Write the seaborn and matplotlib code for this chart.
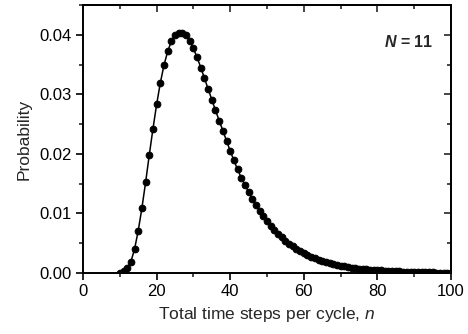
import numpy as np
import pandas as pd
import matplotlib
matplotlib.use("Agg")
import matplotlib.pyplot as plt
from matplotlib.ticker import MultipleLocator
import seaborn as sns

# time steps per cycle (n) and probability
n_steps = list(range(10, 101))
probability = [
    0.00005, 0.0003, 0.0008, 0.0019, 0.0040, 0.0071, 0.0109, 0.0152, 0.0198, 0.0242,  # 10-19
    0.0283, 0.0319, 0.0349, 0.0372, 0.0389, 0.0399, 0.0403, 0.0403, 0.0399, 0.0390,   # 20-29
    0.0377, 0.0362, 0.0345, 0.0327, 0.0309, 0.0291, 0.0273, 0.0256, 0.0239, 0.0222,   # 30-39
    0.0205, 0.0189, 0.0174, 0.0160, 0.0148, 0.0136, 0.0124, 0.0114, 0.0104, 0.0095,   # 40-49
    0.0087, 0.0079, 0.0072, 0.0066, 0.0060, 0.0054, 0.0049, 0.0045, 0.0041, 0.0037,   # 50-59
    0.0033, 0.0030, 0.0027, 0.0025, 0.0022, 0.0020, 0.0018, 0.0017, 0.0015, 0.0014,   # 60-69
    0.0012, 0.0011, 0.0010, 0.0009, 0.0008, 0.0007, 0.0007, 0.0006, 0.0005, 0.0005,   # 70-79
    0.0005, 0.00045, 0.0004, 0.00036, 0.00032, 0.00029, 0.00026, 0.00023, 0.0002, 0.00018,  # 80-89
    0.00016, 0.00014, 0.00013, 0.00011, 0.0001, 0.00009, 0.00008, 0.00007, 0.00006, 0.00006,  # 90-99
    0.00005,  # 100
]

df = pd.DataFrame({"n": n_steps, "p": probability})

sns.set_style("ticks")
plt.rcParams["font.family"] = ["Liberation Sans", "DejaVu Sans"]
plt.rcParams["mathtext.fontset"] = "custom"
plt.rcParams["mathtext.it"] = "Liberation Sans:italic"
plt.rcParams["mathtext.rm"] = "Liberation Sans"
plt.rcParams["mathtext.bf"] = "Liberation Sans:bold:italic"

fig = plt.figure(figsize=(4.68, 3.34), dpi=100)
ax = fig.add_axes([0.1774, 0.1826, 0.7863, 0.8024])

sns.lineplot(data=df, x="n", y="p", ax=ax, color="black", linewidth=1.1,
             marker="o", markersize=4.8, markeredgecolor="black", markerfacecolor="black")

ax.set_xlim(0, 100)
ax.set_ylim(0, 0.045)
ax.xaxis.set_major_locator(MultipleLocator(20))
ax.xaxis.set_minor_locator(MultipleLocator(10))
ax.yaxis.set_major_locator(MultipleLocator(0.01))
ax.yaxis.set_minor_locator(MultipleLocator(0.005))
ax.yaxis.set_major_formatter(matplotlib.ticker.FormatStrFormatter("%.2f"))

for s in ax.spines.values():
    s.set_linewidth(1.4)
    s.set_color("black")

# outward ticks bottom/left
ax.tick_params(axis="both", which="major", direction="out", length=5, width=1.2,
               labelsize=12, colors="black", pad=3)
ax.tick_params(axis="both", which="minor", direction="out", length=3, width=1.2)

# mirrored ticks on top/right pointing inward
top = ax.secondary_xaxis("top")
top.set_xticks([20, 40, 60, 80, 100])
top.xaxis.set_minor_locator(MultipleLocator(10))
top.tick_params(which="major", direction="in", length=5, width=1.2, labeltop=False)
top.tick_params(which="minor", direction="in", length=3, width=1.2)
right = ax.secondary_yaxis("right")
right.set_yticks([0.01, 0.02, 0.03, 0.04])
right.yaxis.set_minor_locator(MultipleLocator(0.005))
right.tick_params(which="major", direction="in", length=5, width=1.2, labelright=False)
right.tick_params(which="minor", direction="in", length=3, width=1.2)
for sa in (top, right):
    for s in sa.spines.values():
        s.set_linewidth(1.4)

ax.set_xlabel("Total time steps per cycle, $n$", fontsize=12.5, labelpad=4)
ax.set_ylabel("Probability", fontsize=12.5, labelpad=6)

ax.text(0.951, 0.862, r"$\mathbf{N}$ = 11", transform=ax.transAxes, ha="right", va="center",
        fontsize=11.5, fontweight="bold")

fig.savefig("out.png", dpi=100)
